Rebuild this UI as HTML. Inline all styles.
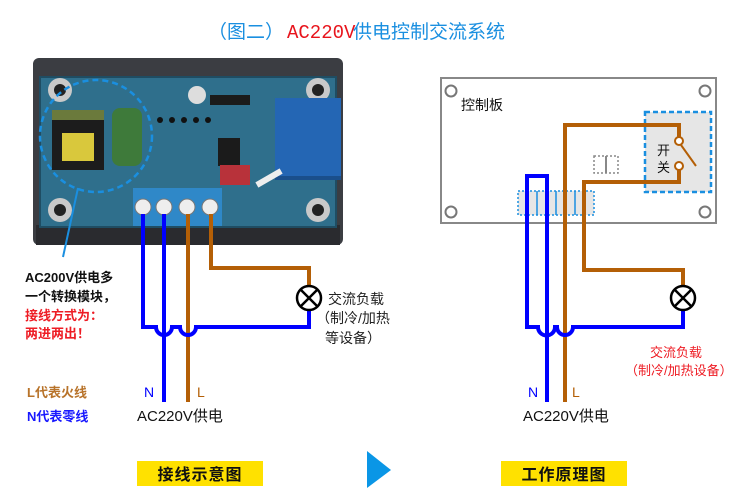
<!DOCTYPE html>
<html><head><meta charset="utf-8"><style>
html,body{margin:0;padding:0;background:#fff;width:750px;height:504px;overflow:hidden}
svg text{font-family:"Liberation Sans","Noto Sans CJK SC",sans-serif}
</style></head><body>
<svg width="750" height="504" viewBox="0 0 750 504" xmlns="http://www.w3.org/2000/svg">
<!-- title -->
<text x="208" y="38" font-size="19" fill="#1a8fe0">（图二）</text>
<text x="287" y="38" fill="#e8141c" style="font-family:'Liberation Mono',monospace;font-size:19px">AC220V</text>
<text x="353" y="38" font-size="19" fill="#1a8fe0">供电控制交流系统</text>

<!-- device photo approximation -->
<rect x="33" y="58" width="310" height="187" rx="6" fill="#3b3d42"/>
<rect x="36" y="225" width="304" height="20" fill="#2a2b2f"/>
<rect x="40" y="77" width="296" height="150" fill="#2f6f8c"/>
<rect x="40" y="77" width="296" height="150" fill="none" stroke="#1f4d63" stroke-width="2"/>
<circle cx="60" cy="90" r="12" fill="#c9c9c9"/><circle cx="60" cy="90" r="6" fill="#222"/>
<circle cx="318" cy="90" r="12" fill="#c9c9c9"/><circle cx="318" cy="90" r="6" fill="#222"/>
<circle cx="60" cy="210" r="12" fill="#c9c9c9"/><circle cx="60" cy="210" r="6" fill="#222"/>
<circle cx="318" cy="210" r="12" fill="#c9c9c9"/><circle cx="318" cy="210" r="6" fill="#222"/>
<!-- transformer -->
<rect x="52" y="110" width="52" height="60" fill="#1c1c1c"/>
<rect x="62" y="133" width="32" height="28" fill="#d9c83c"/>
<rect x="52" y="110" width="52" height="10" fill="#6b7a3c"/>
<!-- capacitor -->
<rect x="112" y="108" width="30" height="58" rx="8" fill="#3e7a3a"/>
<!-- chips -->
<rect x="218" y="138" width="22" height="28" fill="#1b1b1b"/>
<rect x="220" y="165" width="30" height="20" fill="#b8323a"/>
<circle cx="197" cy="95" r="9" fill="#ddd"/>
<rect x="210" y="95" width="40" height="10" fill="#1b1b1b"/>
<g fill="#111"><circle cx="160" cy="120" r="3"/><circle cx="172" cy="120" r="3"/><circle cx="184" cy="120" r="3"/><circle cx="196" cy="120" r="3"/><circle cx="208" cy="120" r="3"/></g>
<!-- relay -->
<rect x="275" y="98" width="66" height="82" fill="#2466b4"/>
<rect x="275" y="176" width="66" height="4" fill="#1a4f8c"/>
<!-- terminal block -->
<rect x="133" y="188" width="89" height="38" fill="#2f88c8"/>
<g fill="#eee" stroke="#777" stroke-width="1">
<circle cx="143" cy="207" r="8"/><circle cx="164" cy="207" r="8"/><circle cx="187" cy="207" r="8"/><circle cx="210" cy="207" r="8"/>
</g>
<rect x="255" y="175" width="28" height="6" fill="#eee" transform="rotate(-30 269 178)"/>
<!-- dashed circle -->
<circle cx="96" cy="136" r="56" fill="none" stroke="#1a8fe0" stroke-width="2.5" stroke-dasharray="6 4"/>
<line x1="78" y1="188" x2="63" y2="257" stroke="#1a8fe0" stroke-width="2"/>

<!-- left wiring -->
<g fill="none" stroke-width="4">
<path d="M211 214 V268 H309 V287" stroke="#b45f06"/>
<path d="M188 214 V402" stroke="#b45f06"/>
<path d="M164 214 V402" stroke="#0000ff"/>
<path d="M143 214 V327 H156 A8 8 0 0 0 172 327 H180 A8 8 0 0 0 196 327 H309 V310" stroke="#0000ff"/>
</g>
<circle cx="309" cy="298" r="12" fill="#fff" stroke="#000" stroke-width="2.5"/>
<path d="M300.5 289.5 L317.5 306.5 M317.5 289.5 L300.5 306.5" stroke="#000" stroke-width="2.5"/>
<g font-size="14" fill="#222">
<text x="328" y="304">交流负载</text>
<text x="316" y="323">（制冷/加热</text>
<text x="325" y="343">等设备）</text>
</g>
<text x="144" y="397" font-size="14" fill="#0000ff">N</text>
<text x="197" y="397" font-size="14" fill="#b45f06">L</text>
<text x="137" y="421" font-size="15" fill="#111">AC220V供电</text>

<g font-size="13" font-weight="bold">
<text x="25" y="282" fill="#111">AC200V供电多</text>
<text x="25" y="301" fill="#111">一个转换模块，</text>
<text x="25" y="320" fill="#ee1c24">接线方式为：</text>
<text x="25" y="338" fill="#ee1c24">两进两出！</text>
<text x="27" y="397" fill="#b8732a">L代表火线</text>
<text x="27" y="421" fill="#1818ff">N代表零线</text>
</g>

<!-- right diagram -->
<rect x="441" y="78" width="275" height="145" fill="#fff" stroke="#888" stroke-width="2"/>
<g fill="#fff" stroke="#777" stroke-width="2">
<circle cx="451" cy="91" r="5.5"/><circle cx="705" cy="91" r="5.5"/><circle cx="451" cy="212" r="5.5"/><circle cx="705" cy="212" r="5.5"/>
</g>
<text x="461" y="110" font-size="14" fill="#111">控制板</text>
<rect x="645" y="112" width="66" height="80" fill="#e6e6e6" stroke="#1a8fe0" stroke-width="2.5" stroke-dasharray="5 3"/>
<text x="657" y="155" font-size="13" fill="#111">开</text>
<text x="657" y="172" font-size="13" fill="#111">关</text>
<rect x="594" y="156" width="24" height="17" fill="none" stroke="#888" stroke-width="1.5" stroke-dasharray="2 2"/>
<line x1="606" y1="156" x2="606" y2="173" stroke="#888" stroke-width="2"/>
<rect x="518" y="191" width="76" height="24" fill="#e6e6e6" stroke="#1a8fe0" stroke-width="1.5" stroke-dasharray="2 2"/>
<g stroke="#1a8fe0" stroke-width="1.5">
<line x1="537" y1="191" x2="537" y2="215"/><line x1="556" y1="191" x2="556" y2="215"/><line x1="575" y1="191" x2="575" y2="215"/>
</g>
<g fill="none" stroke-width="4">
<path d="M565 402 V125 H679 V137" stroke="#b45f06"/>
<path d="M679 170 V182 H584 V270 H683 V287" stroke="#b45f06"/>
<path d="M547 402 V176 H527 V327 H538 A8 8 0 0 0 555 327 H557 A8 8 0 0 0 573 327 H683 V310" stroke="#0000ff"/>
</g>
<circle cx="679" cy="141" r="4" fill="#fff" stroke="#b45f06" stroke-width="2"/>
<circle cx="679" cy="166" r="4" fill="#fff" stroke="#b45f06" stroke-width="2"/>
<line x1="681" y1="145" x2="696" y2="166" stroke="#b45f06" stroke-width="2"/>
<circle cx="683" cy="298" r="12" fill="#fff" stroke="#000" stroke-width="2.5"/>
<path d="M674.5 289.5 L691.5 306.5 M691.5 289.5 L674.5 306.5" stroke="#000" stroke-width="2.5"/>
<text x="650" y="357" font-size="13" fill="#ee1c24">交流负载</text>
<text x="625" y="375" font-size="13" fill="#ee1c24">（制冷/加热设备）</text>
<text x="528" y="397" font-size="14" fill="#0000ff">N</text>
<text x="572" y="397" font-size="14" fill="#b45f06">L</text>
<text x="523" y="421" font-size="15" fill="#111">AC220V供电</text>

<!-- bottom -->
<rect x="137" y="461" width="126" height="25" fill="#ffe100"/>
<text x="200" y="480" font-size="16" fill="#111" text-anchor="middle" font-weight="bold" letter-spacing="1">接线示意图</text>
<polygon points="367,451 391,470 367,488" fill="#0a96e6"/>
<rect x="501" y="461" width="126" height="25" fill="#ffe100"/>
<text x="564" y="480" font-size="16" fill="#111" text-anchor="middle" font-weight="bold" letter-spacing="1">工作原理图</text>
</svg>
</body></html>
